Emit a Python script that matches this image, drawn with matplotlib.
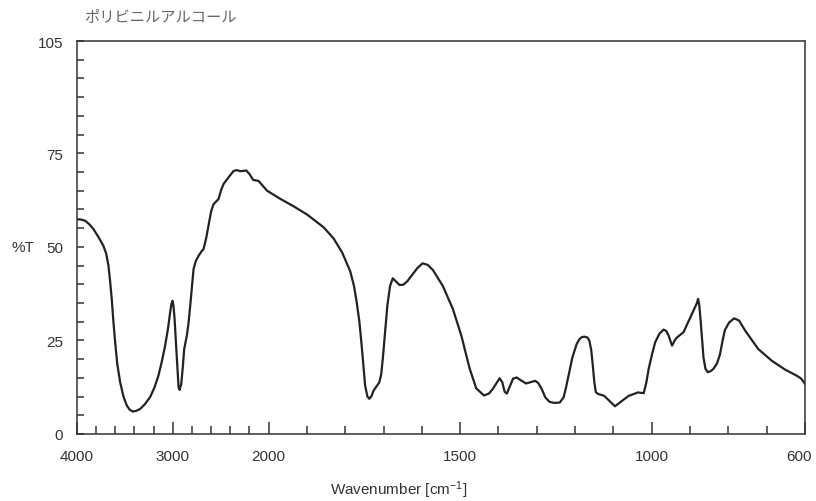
import numpy as np
import matplotlib
matplotlib.use("Agg")
import matplotlib.pyplot as plt
import matplotlib.transforms as mtransforms

# spectrum (wavenumber cm-1, %T)
wavenumber = [4000, 3960, 3916, 3870, 3830, 3780, 3725, 3695, 3672, 3655, 3637, 3620,
              3602, 3580, 3550, 3515, 3480, 3450, 3417, 3380, 3341, 3290, 3236, 3190,
              3150, 3115, 3080, 3050, 3027, 3015, 3003, 2993, 2982, 2973, 2964, 2950,
              2940, 2930, 2920, 2912, 2895, 2881, 2853, 2835, 2818, 2800, 2783, 2760,
              2731, 2700, 2679, 2650, 2627, 2600, 2574, 2522, 2495, 2470, 2417, 2365,
              2330, 2295, 2260, 2232, 2195, 2162, 2104, 2060, 2016, 1969, 1934, 1899,
              1856, 1830, 1808, 1787, 1777, 1770, 1763, 1757, 1752, 1748, 1742, 1737,
              1731, 1726, 1718, 1711, 1706, 1702, 1696, 1690, 1683, 1676, 1668, 1658,
              1648, 1638, 1627, 1612, 1598, 1585, 1571, 1545, 1519, 1497, 1475, 1458,
              1438, 1425, 1415, 1405, 1397, 1390, 1384, 1378, 1370, 1362, 1352, 1344,
              1328, 1304, 1296, 1287, 1278, 1267, 1254, 1240, 1230, 1224, 1216, 1207,
              1196, 1189, 1182, 1176, 1168, 1163, 1158, 1154, 1150, 1146, 1140, 1124,
              1111, 1096, 1077, 1060, 1036, 1021, 1014, 1008, 999, 991, 980, 969,
              962, 956, 947, 940, 934, 917, 899, 888, 882, 879, 876, 872, 868,
              865, 860, 854, 846, 839, 830, 822, 815, 809, 798, 785, 772, 756, 722,
              687, 652, 622, 610, 600]
transmittance = [57.4, 57.3, 57.0, 56.0, 54.8, 52.8, 50.3, 48.2, 45.0, 41.0, 36.0, 30.0,
                 24.6, 18.8, 13.9, 10.0, 7.6, 6.5, 6.0, 6.2, 6.7, 8.0, 9.9, 12.5,
                 15.6, 19.3, 23.6, 28.2, 32.6, 34.6, 35.6, 34.3, 31.0, 27.0, 22.7, 16.5,
                 12.6, 11.8, 12.6, 13.3, 18.0, 22.7, 26.3, 29.8, 34.3, 39.5, 44.1, 46.2,
                 47.6, 48.8, 49.4, 52.5, 55.7, 59.5, 61.4, 62.8, 65.2, 66.8, 68.6, 70.3,
                 70.5, 70.2, 70.3, 70.4, 69.3, 67.9, 67.6, 66.3, 65.0, 62.8, 60.8, 58.6,
                 55.2, 52.2, 48.5, 43.5, 39.5, 35.2, 30.0, 23.6, 17.5, 12.9, 10.0, 9.4,
                 10.2, 11.6, 12.8, 13.8, 16.0, 20.0, 27.0, 34.3, 39.5, 41.6, 40.8, 39.8,
                 39.9, 40.8, 42.3, 44.3, 45.6, 45.2, 43.8, 39.5, 33.4, 26.3, 17.4, 12.2,
                 10.3, 10.8, 12.0, 13.6, 14.9, 13.8, 11.3, 10.8, 12.8, 14.8, 15.1, 14.5,
                 13.5, 14.2, 13.6, 12.0, 9.8, 8.6, 8.3, 8.4, 9.8, 12.3, 16.2, 20.5,
                 24.0, 25.3, 25.9, 26.0, 25.8, 25.0, 22.5, 18.5, 14.0, 11.2, 10.7, 10.2,
                 8.9, 7.4, 8.9, 10.2, 11.1, 10.9, 13.8, 17.4, 21.4, 24.5, 26.8, 27.9,
                 27.5, 26.3, 23.6, 25.0, 25.8, 27.2, 31.2, 33.6, 35.0, 36.1, 34.5, 29.8,
                 24.5, 20.5, 17.5, 16.5, 16.8, 17.4, 18.8, 21.2, 25.0, 27.8, 29.8, 30.9,
                 30.3, 27.6, 22.7, 19.6, 17.2, 15.6, 14.8, 13.4]

major_x = [4000, 3000, 2000, 1500, 1000, 600]
minor_x = [3800, 3600, 3400, 3200, 2800, 2600, 2400, 2200,
           1900, 1800, 1700, 1600, 1400, 1300, 1200, 1100, 900, 800, 700]
y_ticks = list(range(0, 106, 5))
y_labels = [0, 25, 50, 75, 105]


# 4000-2000 drawn at a quarter of the scale of 2000-600
def fwd(w):
    w = np.asarray(w, dtype=float)
    return np.where(w >= 2000, w / 4 + 1500, w)


def inv(u):
    u = np.asarray(u, dtype=float)
    return np.where(u >= 2000, (u - 1500) * 4, u)


plt.rcParams["font.family"] = ["Liberation Sans", "DejaVu Sans"]
plt.rcParams["mathtext.default"] = "regular"

fig = plt.figure(figsize=(8.16, 5.02), dpi=100)
ax = fig.add_axes([77 / 816, 1 - 435 / 502, 728 / 816, 393 / 502])
ax.set_xscale("function", functions=(fwd, inv))

ax.plot(wavenumber, transmittance, color="#222222", lw=1.6, solid_joinstyle="round")

ax.set_xlim(4000, 600)
ax.set_ylim(0, 105)

ax.set_xticks(major_x)
ax.set_xticklabels([str(v) for v in major_x])
ax.set_xticks(minor_x, minor=True)
ax.set_yticks(y_ticks)
ax.set_yticklabels([str(v) if v in y_labels else "" for v in y_ticks])
ax.tick_params(axis="x", which="major", direction="in", length=9, width=1.1,
               pad=11, labelsize=11, colors="#333333")
ax.tick_params(axis="x", which="minor", direction="in", length=6, width=1.1,
               colors="#333333")
ax.tick_params(axis="y", which="major", direction="in", length=5, width=1.1,
               pad=10, labelsize=11, colors="#333333")

# last label sits a little left so it stays inside the figure
last = ax.get_xticklabels()[-1]
last.set_transform(last.get_transform() +
                   mtransforms.ScaledTranslation(-6 / 100, 0, fig.dpi_scale_trans))

for s in ax.spines.values():
    s.set_linewidth(1.1)
    s.set_color("#333333")

ax.set_ylabel("%T", rotation=0, ha="right", va="center", fontsize=11, color="#333333")
ax.yaxis.set_label_coords(-0.058, 50 / 105)

fig.text(399 / 816, 1 - 490 / 502, "Wavenumber [cm$^{-1}$]", ha="center", va="center",
         fontsize=11, color="#333333")
fig.text(84 / 816, 1 - 17 / 502, "ポリビニルアルコール", ha="left", va="center",
         fontsize=11, color="#666666", family=["Noto Sans CJK JP", "DejaVu Sans"])

fig.savefig("out.png", dpi=100)
